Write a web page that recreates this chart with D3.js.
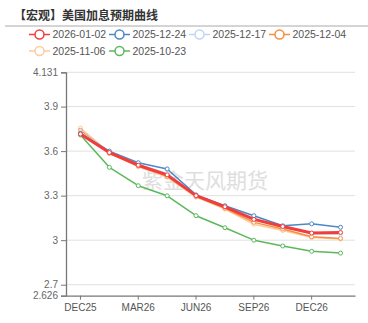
<!DOCTYPE html>
<html>
<head>
<meta charset="utf-8">
<script src="https://cdn.jsdelivr.net/npm/d3@7/dist/d3.min.js"></script>
<style>
  html, body { margin: 0; padding: 0; background: #fff; }
  svg { display: block; font-family: "Liberation Sans", "DejaVu Sans", sans-serif; }
</style>
</head>
<body>
<svg id="chart" width="368" height="323"></svg>
<script>
// Meeting months on the x axis
const categories = ["DEC25", "JAN26", "MAR26", "APR26", "JUN26", "JUL26", "SEP26", "OCT26", "DEC26", "JAN27"];

// Implied policy rate curves (%), one per observation date
const s20260102 = [3.715, 3.590, 3.505, 3.440, 3.300, 3.225, 3.140, 3.092, 3.048, 3.052];
const s20251224 = [3.720, 3.600, 3.522, 3.480, 3.305, 3.232, 3.165, 3.097, 3.110, 3.087];
const s20251217 = [3.730, 3.595, 3.510, 3.450, 3.300, 3.225, 3.150, 3.088, 3.045, 3.040];
const s20251204 = [3.740, 3.585, 3.500, 3.430, 3.295, 3.215, 3.120, 3.075, 3.023, 3.012];
const s20251106 = [3.755, 3.590, 3.495, 3.425, 3.290, 3.210, 3.107, 3.065, 3.018, 3.008];
const s20251023 = [3.709, 3.491, 3.367, 3.299, 3.165, 3.084, 3.000, 2.961, 2.925, 2.913];

const seriesNames = ["2026-01-02", "2025-12-24", "2025-12-17", "2025-12-04", "2025-11-06", "2025-10-23"];
const seriesValues = [s20260102, s20251224, s20251217, s20251204, s20251106, s20251023];
const seriesColors = ["#f23d3d", "#4f87c4", "#c3d6ee", "#f5903d", "#fdcb9e", "#5cb85c"];
const seriesWidths = [3, 1.5, 1.5, 1.5, 1.5, 1.5];

const yMin = 2.626, yMax = 4.131;
const yTicks = [2.7, 3, 3.3, 3.6, 3.9];

const svg = d3.select("#chart");
const plotLeft = 66, plotRight = 355, plotTop = 72.3, plotBottom = 295.7;

// Title and separator
svg.append("text")
  .attr("x", 14).attr("y", 19.5)
  .attr("font-family", "'Noto Sans CJK SC', sans-serif")
  .attr("font-size", 12).attr("font-weight", "bold").attr("fill", "#333")
  .text("【宏观】美国加息预期曲线");
svg.append("line")
  .attr("x1", 5).attr("x2", 368).attr("y1", 26).attr("y2", 26)
  .attr("stroke", "#aaa").attr("stroke-width", 1);

// Legend: two rows of four
const legend = svg.append("g");
seriesNames.forEach((name, i) => {
  const col = i % 4, row = Math.floor(i / 4);
  const g = legend.append("g").attr("transform", `translate(${29 + col * 80},${34.5 + row * 16.5})`);
  g.append("line").attr("x1", 0).attr("x2", 21).attr("y1", 0).attr("y2", 0)
    .attr("stroke", seriesColors[i]).attr("stroke-width", 1.5);
  g.append("circle").attr("cx", 10.5).attr("cy", 0).attr("r", 4.5)
    .attr("fill", "#fff").attr("stroke", seriesColors[i]).attr("stroke-width", 1.5);
  g.append("text").attr("x", 23.5).attr("y", 3.6)
    .attr("font-size", 10.5).attr("fill", "#555").text(name);
});

const x = d3.scaleBand().domain(categories).range([plotLeft, plotRight]);
const y = d3.scaleLinear().domain([yMin, yMax]).range([plotBottom, plotTop]);

// Horizontal grid lines
const gridVals = yTicks.concat([yMax]);
svg.append("g").selectAll("line").data(gridVals).join("line")
  .attr("x1", plotLeft).attr("x2", plotRight)
  .attr("y1", d => y(d)).attr("y2", d => y(d))
  .attr("stroke", "#e0e0e0").attr("stroke-width", 1);

// Watermark
svg.append("text")
  .attr("x", 205).attr("y", 188)
  .attr("text-anchor", "middle")
  .attr("font-family", "'Noto Sans CJK SC', sans-serif")
  .attr("font-size", 21).attr("fill", "#dedede")
  .text("紫金天风期货");

// Y axis
const yAxis = d3.axisLeft(y)
  .tickValues([yMin].concat(yTicks, [yMax]))
  .tickFormat(d => (d === yMin || d === yMax) ? String(d) : d3.format("~g")(d))
  .tickSize(5).tickPadding(3);
const gy = svg.append("g").attr("transform", `translate(${plotLeft},0)`).call(yAxis);
gy.select(".domain").attr("stroke", "#777").attr("stroke-width", 1.3);
gy.selectAll(".tick line").attr("stroke", "#777");
gy.selectAll(".tick text").attr("font-size", 10).attr("fill", "#666")
  .attr("font-family", "'Liberation Sans', sans-serif");

// X axis: label every other meeting
const labelled = categories.filter((d, i) => i % 2 === 0);
const xAxis = d3.axisBottom(x).tickValues(labelled).tickSize(4).tickSizeOuter(0).tickPadding(4);
const gx = svg.append("g").attr("transform", `translate(0,${plotBottom})`).call(xAxis);
gx.select(".domain").attr("stroke", "#777").attr("stroke-width", 1.3);
gx.selectAll(".tick line").attr("stroke", "#777");
gx.selectAll(".tick text").attr("font-size", 10).attr("fill", "#555")
  .attr("font-family", "'Liberation Sans', sans-serif");

// Series lines, drawn oldest first so the latest curve sits on top
const line = d3.line()
  .x((d, i) => x(categories[i]) + x.bandwidth() / 2)
  .y(d => y(d));
const order = [5, 4, 3, 2, 1, 0];
order.forEach(i => {
  const g = svg.append("g");
  g.append("path").datum(seriesValues[i])
    .attr("d", line).attr("fill", "none")
    .attr("stroke", seriesColors[i]).attr("stroke-width", seriesWidths[i])
    .attr("stroke-linejoin", "round");
  g.selectAll("circle").data(seriesValues[i]).join("circle")
    .attr("cx", (d, j) => x(categories[j]) + x.bandwidth() / 2)
    .attr("cy", d => y(d)).attr("r", 2)
    .attr("fill", "#fff").attr("stroke", seriesColors[i]).attr("stroke-width", 1);
});
</script>
</body>
</html>
